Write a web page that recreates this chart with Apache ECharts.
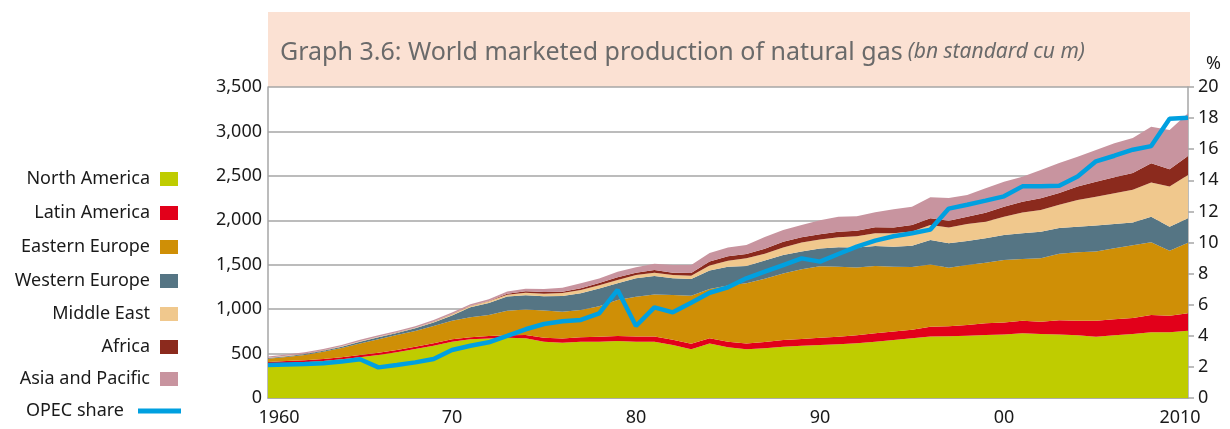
<!DOCTYPE html>
<html>
<head>
<meta charset="UTF-8">
<title>natural gas production</title>
<script src="https://cdn.jsdelivr.net/npm/echarts@6/dist/echarts.min.js"></script>
<style>
  html, body { margin: 0; padding: 0; background: #fff; }
  #main { width: 1230px; height: 429px; }
</style>
</head>
<body>
<div id="main"></div>
<script type="text/javascript">
var years = [];
for (var y = 1960; y <= 2010; y++) years.push(String(y));

// bn standard cu m
var northAmerica = [380,392,402,416,435,458,484,514,551,589,634,660,671,678,672,634,623,634,634,642,
  634,634,596,550,612,572,548,559,578,589,597,604,615,634,653,672,693,695,701,709,
  716,728,720,716,705,690,706,721,739,739,757];
var latinAmerica = [25,24,23,22,23,26,26,26,27,26,26,25,27,28,36,45,48,49,54,56,
  58,58,60,60,60,62,66,70,74,76,80,86,92,94,94,95,110,113,120,131,
  135,142,139,158,165,180,179,178,195,187,196];
var easternEurope = [36,46,60,82,104,128,150,169,176,195,210,225,236,275,288,307,299,307,345,405,
  448,474,503,540,555,633,676,713,750,784,807,788,762,758,731,706,700,659,676,683,
  702,694,713,750,770,778,800,819,818,732,795];
var westernEurope = [8,9,10,11,14,20,23,22,30,40,58,110,135,162,161,158,177,188,199,188,
  207,206,188,188,207,210,196,206,206,199,198,218,225,225,225,240,275,275,270,274,
  281,289,300,289,288,292,273,258,288,270,274];
var middleEast = [4,4,4,4,5,6,5,6,6,8,15,15,20,20,28,29,35,37,37,37,
  38,38,38,38,56,68,86,75,87,101,102,112,127,142,150,161,170,178,191,187,
  207,236,244,262,301,326,346,368,384,451,488];
var africa = [1,1,1,1,1,2,2,2,2,2,3,3,4,10,17,19,14,19,26,30,
  25,31,25,30,46,50,49,56,63,60,60,64,60,68,65,72,75,75,83,102,
  112,120,131,131,150,169,180,188,217,194,213];
var asiaPacific = [12,14,15,15,15,15,16,16,16,17,17,18,18,25,28,35,45,57,50,64,
  61,71,87,90,97,100,101,132,132,139,157,169,165,169,206,206,235,255,244,274,
  282,282,319,339,337,356,382,393,413,443,481];
// %
var opecShare = [2.12,2.15,2.18,2.23,2.34,2.49,1.97,2.12,2.29,2.51,3.09,3.36,3.58,3.99,4.42,4.76,4.93,5.02,5.44,6.95,
  4.63,5.83,5.51,6.13,6.77,7.12,7.7,8.12,8.55,8.98,8.77,9.26,9.73,10.12,10.4,10.6,10.83,12.18,12.43,12.69,
  12.97,13.61,13.61,13.65,14.25,15.22,15.58,15.97,16.2,17.96,18.03];

var yLeftTicks = [0, 500, 1000, 1500, 2000, 2500, 3000, 3500];
var yRightTicks = [0, 2, 4, 6, 8, 10, 12, 14, 16, 18, 20];

var areaNames = ['North America','Latin America','Eastern Europe','Western Europe','Middle East','Africa','Asia and Pacific'];
var areaColors = ['#bfcc00','#e2001a','#cf8f06','#557584','#f0c88d','#8b2a1d','#c8949f'];
var areaData = [northAmerica, latinAmerica, easternEurope, westernEurope, middleEast, africa, asiaPacific];
var legendY = [179, 213, 247, 281, 314, 347, 379, 411];

var font = "'Noto Sans', sans-serif";
var gridColor = '#a6a6a6';
var labelSize = 18;

var series = [];
for (var i = 0; i < areaNames.length; i++) {
  series.push({
    name: areaNames[i],
    type: 'line',
    stack: 'gas',
    yAxisIndex: 0,
    symbol: 'none',
    color: areaColors[i],
    lineStyle: { width: 0 },
    areaStyle: { color: areaColors[i], opacity: 1 },
    data: areaData[i]
  });
}
series.push({
  name: 'OPEC share',
  type: 'line',
  yAxisIndex: 1,
  symbol: 'none',
  color: '#00a0e0',
  lineStyle: { width: 4.5, color: '#00a0e0' },
  z: 5,
  data: opecShare
});

var legends = [];
for (var j = 0; j < areaNames.length; j++) {
  legends.push({
    data: [areaNames[j]],
    right: 1052,
    top: legendY[j] - 9,
    padding: 0,
    align: 'right',
    icon: 'rect',
    itemWidth: 18,
    itemHeight: 14,
    selectedMode: false,
    textStyle: { fontFamily: font, fontSize: 18, color: '#1a1a1a', padding: [0, 5, 0, 0] }
  });
}
legends.push({
  data: ['OPEC share'],
  right: 1049,
  top: legendY[7] - 9,
  padding: 0,
  align: 'right',
  icon: 'rect',
  itemWidth: 43,
  itemHeight: 5,
  selectedMode: false,
  textStyle: { fontFamily: font, fontSize: 18, color: '#1a1a1a', padding: [0, 9, 0, 0] }
});

var myChart = echarts.init(document.getElementById('main'));

var option = {
  animation: false,
  backgroundColor: '#fff',
  graphic: [{
    type: 'rect',
    shape: { x: 268, y: 12, width: 922, height: 75 },
    style: { fill: '#fbe1d3' },
    z: -1
  }],
  title: {
    left: 275,
    top: 35,
    text: '{a|Graph 3.6: World marketed production of natural gas} {b|(bn standard cu m)}',
    textStyle: {
      fontWeight: 'normal',
      rich: {
        a: { fontFamily: font, fontSize: 25, fontWeight: 'normal', color: '#6a6a6a' },
        b: { fontFamily: font, fontSize: 21, fontWeight: 'normal', fontStyle: 'italic', color: '#6a6a6a' }
      }
    }
  },
  legend: legends,
  grid: { left: 268, right: 42, top: 87, bottom: 31 },
  xAxis: {
    type: 'category',
    boundaryGap: false,
    data: years,
    axisLine: { lineStyle: { color: gridColor, width: 1.5 } },
    axisTick: { show: false },
    axisLabel: {
      interval: 0,
      margin: 11,
      fontFamily: font,
      fontSize: labelSize,
      color: '#1a1a1a',
      formatter: function (v, idx) {
        if (idx % 10 !== 0) return '';
        if (v === '1960') return '{first|1960}';
        if (v === '2010') return '{last|2010}';
        return v.slice(2);
      },
      rich: {
        first: { fontFamily: font, fontSize: labelSize, color: '#1a1a1a', padding: [0, 0, 0, 22] },
        last: { fontFamily: font, fontSize: labelSize, color: '#1a1a1a', padding: [0, 16, 0, 0] }
      }
    }
  },
  yAxis: [{
    type: 'value',
    min: yLeftTicks[0],
    max: yLeftTicks[yLeftTicks.length - 1],
    interval: 500,
    axisLine: { show: true, lineStyle: { color: gridColor, width: 1.5 } },
    axisTick: { show: false },
    splitLine: { lineStyle: { color: gridColor, width: 1.5 } },
    axisLabel: { fontFamily: font, fontSize: labelSize, color: '#1a1a1a', margin: 6 }
  }, {
    type: 'value',
    position: 'right',
    min: yRightTicks[0],
    max: yRightTicks[yRightTicks.length - 1],
    interval: 2,
    name: '%',
    nameLocation: 'end',
    nameGap: 14,
    nameTextStyle: { fontFamily: font, fontSize: labelSize, color: '#1a1a1a', align: 'left', padding: [0, 0, 0, 18] },
    axisLine: { show: true, lineStyle: { color: gridColor, width: 1.5 } },
    axisTick: { show: true, length: 6, lineStyle: { color: gridColor, width: 1.5 } },
    splitLine: { show: false },
    axisLabel: { fontFamily: font, fontSize: labelSize, color: '#1a1a1a', margin: 10 }
  }],
  series: series
};
myChart.setOption(option);
</script>
</body>
</html>
